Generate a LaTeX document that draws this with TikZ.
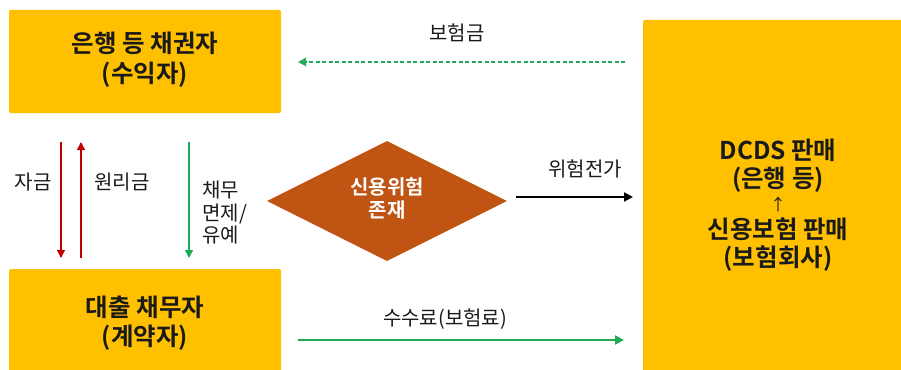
\documentclass[tikz,border=0pt]{standalone}
\usepackage{fontspec}
\setmainfont{Noto Sans CJK KR}[BoldFont={Noto Sans CJK KR Bold}]
\usetikzlibrary{shapes.geometric,arrows.meta}
\definecolor{boxyellow}{HTML}{FFC000}
\definecolor{diabrown}{HTML}{BF5413}
\definecolor{arrred}{HTML}{C00000}
\definecolor{arrgreen}{HTML}{1FAA55}
\definecolor{txt}{HTML}{1A1A1A}
\newcommand{\twolines}[3]{\raisebox{#3}{\begin{tabular}{@{}c@{}}#1\\#2\end{tabular}}}
\tikzset{
  ybox/.style={fill=boxyellow, rounded corners=1.5pt, inner sep=0pt, align=center,
    text=txt, font=\fontsize{24.5}{29}\selectfont\bfseries},
  lbl/.style={text=txt, font=\fontsize{20}{22}\selectfont, inner sep=0pt},
  redarr/.style={draw=arrred, line width=1.2pt, -{Triangle[length=8pt,width=8pt]}},
  grnarr/.style={draw=arrgreen, line width=1.4pt, -{Triangle[length=8pt,width=8pt]}},
}
\begin{document}
\begin{tikzpicture}[x=1pt,y=-1pt]
\useasboundingbox (0,0) rectangle (901,369);
\clip (0,0) rectangle (901,369);
\fill[white] (0,0) rectangle (901,369);
% boxes
\node[ybox, minimum width=272pt, minimum height=103pt, font=\fontsize{24.5}{30}\selectfont\bfseries] (cred) at (145,61.5)
  {\twolines{은행 등 채권자}{(수익자)}{-3pt}};
\node[ybox, minimum width=272pt, minimum height=112pt, font=\fontsize{24.5}{28}\selectfont\bfseries] (debt) at (145,325)
  {\twolines{대출 채무자}{(계약자)}{-2pt}};
\node[ybox, minimum width=270pt, minimum height=370pt, font=\fontsize{24.5}{28}\selectfont\bfseries] (sell) at (778,205)
  {DCDS 판매\\(은행 등)\\[-5pt]{\fontsize{16}{18}\selectfont\mdseries ↑}\\신용보험 판매\\(보험회사)};
% diamond
\node[diamond, fill=diabrown, aspect=2, minimum width=240pt, minimum height=120pt, inner sep=0pt,
  text=white, align=center, font=\fontsize{20}{22}\selectfont\bfseries] (risk) at (387,201)
  {\twolines{신용위험}{존재}{-2pt}};
% coordinates
\coordinate (f1) at (61,142);  \coordinate (f2) at (61,258);
\coordinate (p1) at (81,258);  \coordinate (p2) at (81,142);
\coordinate (g1) at (189,142); \coordinate (g2) at (189,258);
\coordinate (d1) at (625,62);  \coordinate (d2) at (298,62);
\coordinate (b1) at (298,340); \coordinate (b2) at (624,340);
\coordinate (k1) at (516,197); \coordinate (k2) at (633,197);
% arrows
\draw[redarr] (f1) -- (f2);
\draw[redarr] (p1) -- (p2);
\draw[grnarr] (g1) -- (g2);
\draw[draw=arrgreen, line width=2.2pt, dash pattern=on 4pt off 2.5pt, -{Triangle[length=8pt,width=8pt]}] (d1) -- (d2);
\draw[draw=arrgreen, line width=2.6pt, -{Triangle[length=9pt,width=9pt]}] (b1) -- (b2);
\draw[draw=black, line width=2pt, -{Triangle[length=9pt,width=9pt]}] (k1) -- (k2);
% labels
\node[lbl] (l1) at (33,182) {자금};
\node[lbl] (l2) at (122,182) {원리금};
\node[lbl, anchor=west, align=left, font=\fontsize{20}{22.5}\selectfont] (l3) at (202,213) {채무\\면제/\\유예};
\node[lbl] (l4) at (457,33) {보험금};
\node[lbl] (l5) at (585,169) {위험전가};
\node[lbl] (l6) at (445,319) {수수료(보험료)};
\end{tikzpicture}
\end{document}
